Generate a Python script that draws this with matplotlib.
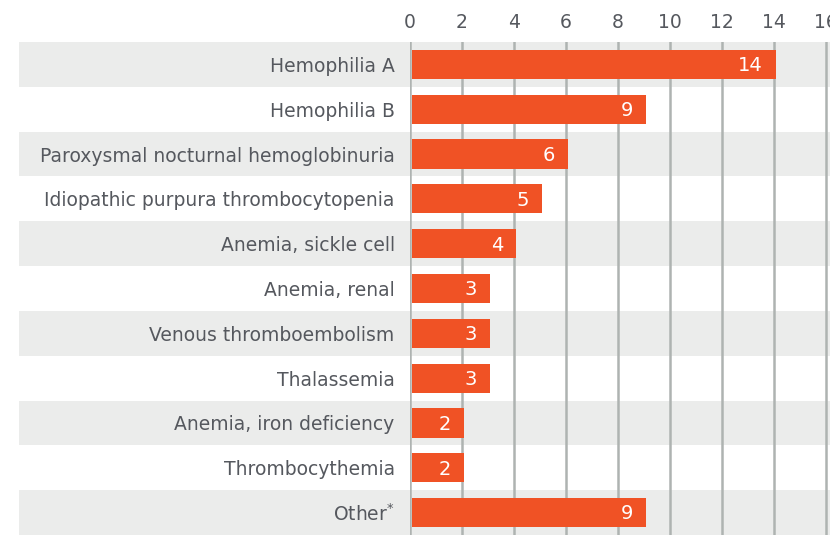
import matplotlib
matplotlib.use("Agg")
import matplotlib.pyplot as plt
from matplotlib.patches import Rectangle
from matplotlib.transforms import blended_transform_factory

categories = ["Hemophilia A", "Hemophilia B", "Paroxysmal nocturnal hemoglobinuria",
              "Idiopathic purpura thrombocytopenia", "Anemia, sickle cell", "Anemia, renal",
              "Venous thromboembolism", "Thalassemia", "Anemia, iron deficiency",
              "Thrombocythemia", "Other$^{*}$"]
values = [14, 9, 6, 5, 4, 3, 3, 3, 2, 2, 9]
xticks = [0, 2, 4, 6, 8, 10, 12, 14, 16]

W, H = 830, 535
fig = plt.figure(figsize=(W / 100, H / 100), dpi=100)
left, right, top, bottom = 410, 830, 42, 535
ax = fig.add_axes([left / W, 1 - bottom / H, (right - left) / W, (bottom - top) / H])
ax.set_zorder(1)
ax.set_xlim(0, (right - left) / 26.0)
n = len(categories)
ax.set_ylim(n - 0.5, -0.5)

bar_color = "#F05225"
text_color = "#55585E"
band_color = "#EBECEB"
grid_color = "#AEB3B1"

trans = blended_transform_factory(fig.transFigure, ax.transData)
for i in range(n):
    if i % 2 == 0:
        r = Rectangle((19 / W, i - 0.5), 1 - 19 / W, 1.0, transform=trans,
                      facecolor=band_color, edgecolor="none", zorder=-5, clip_on=False)
        fig.patches.append(r)

ax.patch.set_alpha(0)
for t in xticks:
    ax.axvline(t, color=grid_color, lw=1.8, zorder=1)

ypos = list(range(n))
bar_start = 0.07
ax.barh(ypos, [v + 0.06 - bar_start for v in values], left=bar_start, height=0.65,
        color=bar_color, zorder=2)
for y, v in zip(ypos, values):
    ax.text(v - 0.42, y + 0.03, str(v), ha="right", va="center", color="white",
            fontsize=14, zorder=3)

ax.set_yticks(ypos)
ax.set_yticklabels(categories, fontsize=13.5, color=text_color)
ax.set_xticks(xticks)
ax.set_xticklabels([str(t) for t in xticks], fontsize=13.5, color=text_color)
ax.xaxis.tick_top()
ax.tick_params(axis="x", length=0, pad=7)
ax.tick_params(axis="y", length=0, pad=11)
for s in ax.spines.values():
    s.set_visible(False)

fig.savefig("out.png", dpi=100)
